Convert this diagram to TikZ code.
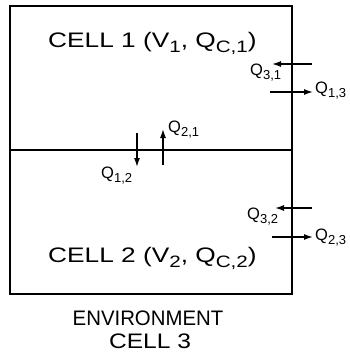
\documentclass[tikz,border=0pt]{standalone}
\usepackage{fontspec}
\setmainfont{Liberation Sans}
\usetikzlibrary{arrows.meta}
\newcommand\bsub[1]{\raisebox{-5pt}{\fontsize{16.5}{16.5}\selectfont #1}}
\newcommand\ssub[1]{\raisebox{-4.5pt}{\fontsize{13}{13}\selectfont #1}}
\tikzset{
  bigtxt/.style={inner sep=0pt, font=\fontsize{21}{24}\selectfont},
  qlab/.style={inner sep=0pt, anchor=base west, font=\fontsize{16.5}{18}\selectfont},
  wall/.style={line width=1.7pt},
  arr/.style={line width=1.4pt, -{Latex[length=9pt,width=6pt]}}
}
\begin{document}
\begin{tikzpicture}[x=1pt,y=-1pt]
\useasboundingbox (0,0) rectangle (349,356);
% box
\coordinate (tl) at (10,6);
\coordinate (br) at (292,294);
\coordinate (ml) at (10,150);
\coordinate (mr) at (292,150);
\draw[wall] (tl) rectangle (br);
\draw[line width=1.3pt] (ml) -- (mr);
% texts
\node[bigtxt, anchor=base west] (c1) at (48,47) {\scalebox{1.25}[1]{CELL 1 (V\bsub{1}, Q\bsub{C,1})}};
\node[bigtxt, anchor=base west] (c2) at (48,262) {\scalebox{1.25}[1]{CELL 2 (V\bsub{2}, Q\bsub{C,2})}};
\node[bigtxt, anchor=base] (env) at (148,325) {\scalebox{0.97}[1]{ENVIRONMENT}};
\node[bigtxt, anchor=base] (c3) at (150,348) {\scalebox{1.17}[1]{CELL 3}};
% arrows
\coordinate (a31s) at (312,64);  \coordinate (a31e) at (272,64);
\coordinate (a13s) at (270,92);  \coordinate (a13e) at (313,92);
\coordinate (a21s) at (163,165); \coordinate (a21e) at (163,129);
\coordinate (a12s) at (137,133); \coordinate (a12e) at (137,167);
\coordinate (a32s) at (312,208); \coordinate (a32e) at (275,208);
\coordinate (a23s) at (272,237); \coordinate (a23e) at (313,237);
\draw[arr] (a31s) -- (a31e);
\draw[arr] (a13s) -- (a13e);
\draw[arr] (a21s) -- (a21e);
\draw[arr] (a12s) -- (a12e);
\draw[arr] (a32s) -- (a32e);
\draw[arr] (a23s) -- (a23e);
% labels
\node[qlab] (q31) at (250,75) {Q\ssub{3,1}};
\node[qlab] (q13) at (315,93) {Q\ssub{1,3}};
\node[qlab] (q21) at (168,132) {Q\ssub{2,1}};
\node[qlab] (q12) at (101,178) {Q\ssub{1,2}};
\node[qlab] (q32) at (247,219) {Q\ssub{3,2}};
\node[qlab] (q23) at (315,240) {Q\ssub{2,3}};
\end{tikzpicture}
\end{document}
